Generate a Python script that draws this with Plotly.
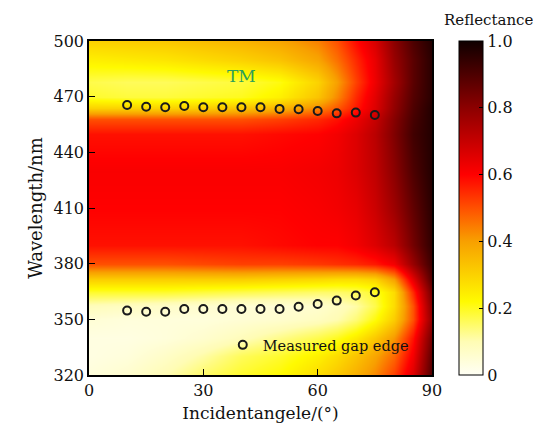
import plotly.graph_objects as go

# Heatmap grid
angles = [0, 10, 20, 30, 40, 50, 60, 65, 70, 75, 80, 85, 90]
wavelengths = [320, 330, 340, 350, 357, 365, 372, 380, 390, 410, 430, 450, 458, 464, 470, 478, 490, 500]
reflectance = [
    [0.04, 0.06, 0.10, 0.15, 0.19, 0.22, 0.28, 0.32, 0.37, 0.43, 0.52, 0.66, 0.90],  # 320
    [0.03, 0.04, 0.07, 0.11, 0.16, 0.19, 0.24, 0.28, 0.33, 0.39, 0.47, 0.62, 0.88],  # 330
    [0.03, 0.03, 0.04, 0.06, 0.09, 0.13, 0.17, 0.20, 0.25, 0.32, 0.41, 0.58, 0.85],  # 340
    [0.05, 0.04, 0.04, 0.04, 0.05, 0.06, 0.08, 0.10, 0.14, 0.21, 0.31, 0.50, 0.80],  # 350
    [0.09, 0.08, 0.07, 0.06, 0.05, 0.05, 0.06, 0.08, 0.11, 0.17, 0.28, 0.50, 0.82],  # 357
    [0.19, 0.19, 0.19, 0.18, 0.17, 0.16, 0.15, 0.15, 0.16, 0.19, 0.28, 0.55, 0.85],  # 365
    [0.31, 0.31, 0.31, 0.31, 0.31, 0.30, 0.29, 0.28, 0.28, 0.30, 0.40, 0.65, 0.90],  # 372
    [0.50, 0.50, 0.50, 0.51, 0.52, 0.52, 0.53, 0.54, 0.55, 0.57, 0.62, 0.78, 0.93],  # 380
    [0.58, 0.58, 0.58, 0.58, 0.58, 0.59, 0.60, 0.60, 0.62, 0.66, 0.72, 0.84, 0.95],  # 390
    [0.60, 0.60, 0.60, 0.60, 0.60, 0.60, 0.61, 0.62, 0.64, 0.69, 0.77, 0.87, 0.96],  # 410
    [0.61, 0.61, 0.61, 0.61, 0.61, 0.61, 0.62, 0.63, 0.66, 0.71, 0.80, 0.90, 0.97],  # 430
    [0.58, 0.58, 0.58, 0.58, 0.58, 0.59, 0.60, 0.62, 0.66, 0.72, 0.82, 0.92, 0.97],  # 450
    [0.50, 0.50, 0.50, 0.50, 0.50, 0.52, 0.55, 0.58, 0.63, 0.70, 0.81, 0.91, 0.97],  # 458
    [0.30, 0.30, 0.30, 0.31, 0.33, 0.36, 0.43, 0.49, 0.57, 0.66, 0.79, 0.90, 0.97],  # 464
    [0.19, 0.18, 0.18, 0.19, 0.20, 0.24, 0.33, 0.43, 0.55, 0.65, 0.78, 0.89, 0.96],  # 470
    [0.17, 0.16, 0.16, 0.17, 0.18, 0.21, 0.30, 0.40, 0.52, 0.63, 0.76, 0.88, 0.96],  # 478
    [0.24, 0.25, 0.26, 0.28, 0.30, 0.33, 0.39, 0.46, 0.55, 0.64, 0.78, 0.88, 0.96],  # 490
    [0.30, 0.31, 0.32, 0.34, 0.36, 0.39, 0.44, 0.50, 0.59, 0.67, 0.80, 0.90, 0.97],  # 500
]

# Measured gap edges
meas_angles = [10, 15, 20, 25, 30, 35, 40, 45, 50, 55, 60, 65, 70, 75]
upper_edge = [465.5, 464.6, 464.3, 465.0, 464.3, 464.3, 464.3, 464.3, 463.4, 463.2, 462.3, 461.0, 461.4, 460.1]
lower_edge = [354.7, 354.1, 354.1, 355.6, 355.6, 355.6, 355.6, 355.6, 355.6, 356.8, 358.3, 360.1, 362.8, 364.6]

x_ticks = [0, 30, 60, 90]
y_ticks = [320, 350, 380, 410, 440, 470, 500]
cbar_ticks = [0, 0.2, 0.4, 0.6, 0.8, 1.0]
cbar_ticktext = ["0", "0.2", "0.4", "0.6", "0.8", "1.0"]

FONT = "DejaVu Serif"

colorscale = [
    [0.0, "rgb(255,255,245)"],
    [0.1, "rgb(255,252,180)"],
    [0.22, "rgb(255,250,0)"],
    [0.4, "rgb(248,160,0)"],
    [0.5, "rgb(255,80,0)"],
    [0.6, "rgb(255,0,0)"],
    [0.8, "rgb(140,0,0)"],
    [1.0, "rgb(15,0,0)"],
]

fig = go.Figure()
fig.add_trace(go.Heatmap(
    x=angles, y=wavelengths, z=reflectance,
    zmin=0, zmax=1, zsmooth="best", colorscale=colorscale,
    showscale=True, showlegend=False,
    colorbar=dict(
        x=1.079, xanchor="left", xref="paper", xpad=0, ypad=0,
        y=0.5, yanchor="middle", len=1.0, lenmode="fraction",
        thickness=24, outlinecolor="black", outlinewidth=1,
        tickvals=cbar_ticks, ticktext=cbar_ticktext,
        ticks="inside", ticklen=4, tickcolor="black",
        tickfont=dict(family=FONT, size=16, color="#111"),
    ),
))

marker_style = dict(symbol="circle-open", size=8, color="#1a1a1a", line=dict(width=2, color="#1a1a1a"))
fig.add_trace(go.Scatter(x=meas_angles, y=upper_edge, mode="markers", marker=marker_style,
                         name="Measured gap edge", showlegend=True))
fig.add_trace(go.Scatter(x=meas_angles, y=lower_edge, mode="markers", marker=marker_style,
                         name="Measured gap edge", showlegend=False))

fig.add_annotation(x=40, y=481, xref="x", yref="y", text="TM", showarrow=False,
                   font=dict(family=FONT, size=17, color="#2ca05a"))
fig.add_annotation(x=1.03, y=1.03, xref="paper", yref="paper", text="Reflectance",
                   showarrow=False, xanchor="left", yanchor="bottom",
                   font=dict(family=FONT, size=15, color="#111"))

axis_common = dict(showline=True, linecolor="black", linewidth=1.5, mirror=True,
                   ticks="inside", ticklen=6, tickcolor="black", showgrid=False, zeroline=False,
                   tickfont=dict(family=FONT, size=16, color="#111"))
fig.update_xaxes(range=[0, 90], tickvals=x_ticks,
                 title=dict(text="Incidentangele/(°)", font=dict(family=FONT, size=17, color="#111"), standoff=8),
                 **axis_common)
fig.update_yaxes(range=[320, 500], tickvals=y_ticks,
                 title=dict(text="Wavelength/nm", font=dict(family=FONT, size=18, color="#111"), standoff=6),
                 **axis_common)

fig.update_layout(
    width=533, height=437,
    margin=dict(l=89, r=101, t=41, b=62, autoexpand=False),
    paper_bgcolor="white", plot_bgcolor="white",
    legend=dict(x=0.39, y=0.09, xanchor="left", yanchor="middle", bgcolor="rgba(0,0,0,0)",
                font=dict(family=FONT, size=14.5, color="#111")),
)

fig.write_html("out.html")
